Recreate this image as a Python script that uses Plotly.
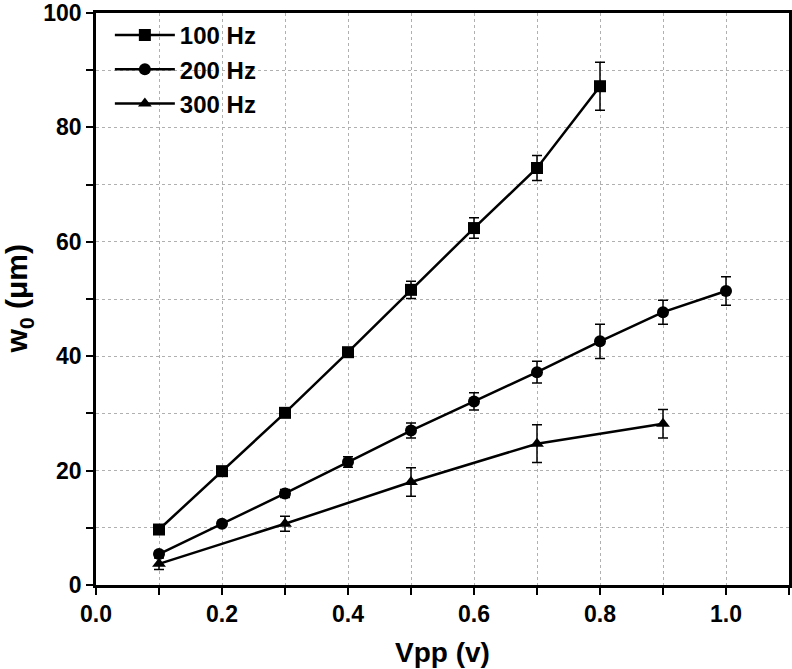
import plotly.graph_objects as go

# Data
x_100 = [0.1, 0.2, 0.3, 0.4, 0.5, 0.6, 0.7, 0.8]
y_100 = [9.7, 19.9, 30.1, 40.7, 51.6, 62.4, 72.9, 87.2]
e_100 = [0.4, 0.4, 0.4, 0.6, 1.5, 1.8, 2.2, 4.2]

x_200 = [0.1, 0.2, 0.3, 0.4, 0.5, 0.6, 0.7, 0.8, 0.9, 1.0]
y_200 = [5.4, 10.7, 16.0, 21.5, 27.0, 32.1, 37.2, 42.6, 47.7, 51.4]
e_200 = [0.5, 0.4, 0.7, 0.9, 1.3, 1.5, 1.9, 3.0, 2.1, 2.5]

x_300 = [0.1, 0.3, 0.5, 0.7, 0.9]
y_300 = [3.7, 10.7, 18.0, 24.7, 28.2]
e_300 = [1.0, 1.3, 2.5, 3.3, 2.5]

names = ["100 Hz", "200 Hz", "300 Hz"]
symbols = ["square", "circle", "triangle-up"]
x_title = "Vpp (v)"
y_title = "w<sub>0</sub> (μm)"

FONT = "Liberation Sans, Arial, sans-serif"

fig = go.Figure()
for xs, ys, es, nm, sym in [(x_100, y_100, e_100, names[0], symbols[0]),
                            (x_200, y_200, e_200, names[1], symbols[1]),
                            (x_300, y_300, e_300, names[2], symbols[2])]:
    fig.add_trace(go.Scatter(
        x=xs, y=ys, name=nm, mode="lines+markers",
        line=dict(color="black", width=2.5),
        marker=dict(symbol=sym, size=12, color="black"),
        error_y=dict(type="data", array=es, visible=True, color="black",
                     thickness=1.5, width=5),
    ))

axis_common = dict(
    showline=True, linecolor="black", linewidth=2.5, mirror=True,
    ticks="outside", ticklen=7, tickwidth=2, tickcolor="black",
    showgrid=True, gridcolor="#b0b0b0", griddash="dot", gridwidth=1,
    zeroline=False, automargin=False,
    tickfont=dict(family=FONT, size=23, color="black", weight="bold"),
)

fig.update_xaxes(
    range=[0, 1.1], dtick=0.2, tick0=0, tickformat=".1f",
    minor=dict(dtick=0.1, ticks="outside", ticklen=7, tickcolor="black",
               showgrid=True, gridcolor="#b0b0b0", griddash="dot"),
    **axis_common,
)
fig.update_yaxes(
    range=[0, 100], dtick=20, tick0=0,
    minor=dict(dtick=10, ticks="outside", ticklen=7, tickcolor="black",
               showgrid=True, gridcolor="#b0b0b0", griddash="dot"),
    **axis_common,
)

fig.add_annotation(text=x_title, xref="paper", yref="paper", x=0.5, y=-0.118,
                   xanchor="center", yanchor="middle", showarrow=False,
                   font=dict(family=FONT, size=28, color="black", weight="bold"))
fig.add_annotation(text=y_title, xref="paper", yref="paper", x=-0.112, y=0.5,
                   xanchor="center", yanchor="middle", showarrow=False,
                   textangle=-90,
                   font=dict(family=FONT, size=30, color="black", weight="bold"))

fig.update_layout(
    width=792, height=669,
    margin=dict(l=96, r=3, t=13, b=84),
    paper_bgcolor="white", plot_bgcolor="white",
    showlegend=True,
    legend=dict(x=0.02, y=1.0, xanchor="left", yanchor="top",
                bgcolor="rgba(0,0,0,0)",
                font=dict(family=FONT, size=24, color="black", weight="bold"),
                tracegroupgap=0, itemwidth=60),
)

fig.write_html(
    "out.html",
    config={"displayModeBar": False},
    post_script="document.body.style.margin='0';document.body.style.overflow='hidden';",
)
